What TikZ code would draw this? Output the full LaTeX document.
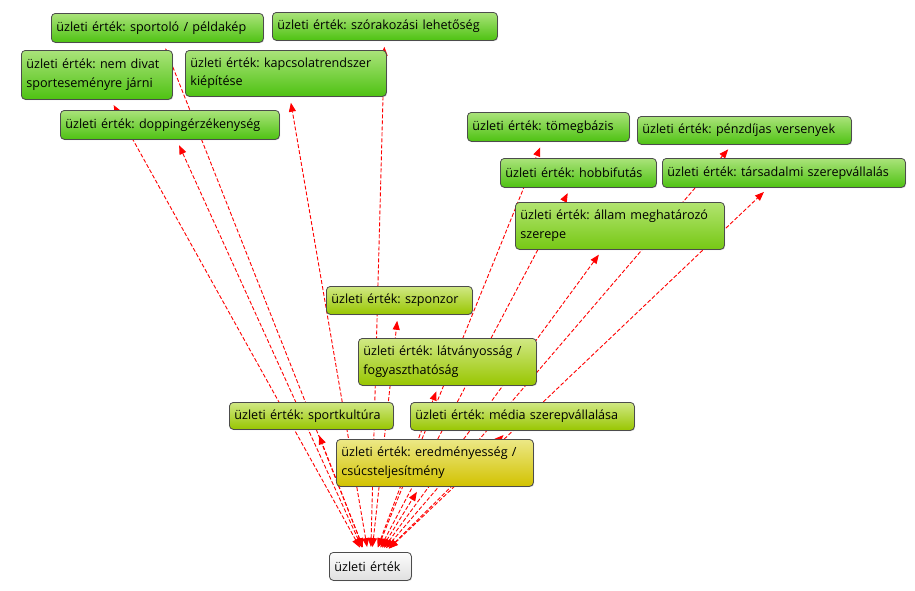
\documentclass[tikz,border=0pt]{standalone}
\usepackage{fontspec}
\setmainfont{Open Sans}
\frenchspacing
\usetikzlibrary{arrows.meta,backgrounds,shadows}

% Szinek
\definecolor{zoldfel}{RGB}{170,227,122}
\definecolor{zoldle}{RGB}{78,194,18}
\definecolor{kozepfel}{RGB}{178,228,112}
\definecolor{kozeple}{RGB}{118,200,20}
\definecolor{limefel}{RGB}{208,232,132}
\definecolor{limele}{RGB}{152,198,0}
\definecolor{sargafel}{RGB}{236,232,134}
\definecolor{sargale}{RGB}{210,194,0}
\definecolor{szurkefel}{RGB}{252,252,252}
\definecolor{szurkele}{RGB}{224,224,224}

\tikzset{
  doboz/.style={draw=black!70, line width=0.8pt, rounded corners=4pt,
    anchor=north west, align=left, inner xsep=5pt, inner ysep=0pt,
    font=\fontsize{12.6}{18.5}\selectfont,
    drop shadow={shadow xshift=0.8pt, shadow yshift=-0.8pt, opacity=0.35}},
  zold/.style={doboz, top color=zoldfel, bottom color=zoldle},
  kozep/.style={doboz, top color=kozepfel, bottom color=kozeple},
  lime/.style={doboz, top color=limefel, bottom color=limele},
  sarga/.style={doboz, top color=sargafel, bottom color=sargale},
  szurke/.style={doboz, top color=szurkefel, bottom color=szurkele},
  nyil/.style={{Triangle[length=9pt,width=7pt]}-{Triangle[length=9pt,width=7pt]},
    red, dash pattern=on 4pt off 2pt, line width=0.9pt,
    shorten <=5pt, shorten >=6pt}
}

\begin{document}
\begin{tikzpicture}[x=1pt, y=-1pt]
  \useasboundingbox (0,0) rectangle (915,590);

  % Felso sor
  \node[zold, text width=202pt, minimum height=29pt] (sportolo) at (51,13) {üzleti érték: sportoló / példakép};
  \node[zold, text width=215pt, minimum height=28pt] (szorakozas) at (272,12) {üzleti érték: szórakozási lehetőség};
  \node[zold, text width=141pt, minimum height=49pt] (nemdivat) at (21,50) {üzleti érték: nem divat\\sporteseményre járni};
  \node[zold, text width=191pt, minimum height=46pt] (kapcsolat) at (185,50) {üzleti érték: kapcsolatrendszer\\kiépítése};
  \node[zold, text width=209pt, minimum height=29pt] (dopping) at (60,110) {üzleti érték: doppingérzékenység};

  % Jobb oldal
  \node[zold, text width=152pt, minimum height=29pt] (tomegbazis) at (467,112) {üzleti érték: tömegbázis};
  \node[zold, text width=204pt, minimum height=28pt] (penzdijas) at (637,116) {üzleti érték: pénzdíjas versenyek};
  \node[zold, text width=146pt, minimum height=29pt] (hobbifutas) at (500,158) {üzleti érték: hobbifutás};
  \node[zold, text width=233pt, minimum height=29pt] (tarsadalmi) at (662,158) {üzleti érték: társadalmi szerepvállalás};
  \node[kozep, text width=199pt, minimum height=47pt] (allam) at (515,202) {üzleti érték: állam meghatározó\\szerepe};

  % Also resz
  \node[lime, text width=136pt, minimum height=28pt] (szponzor) at (326,286) {üzleti érték: szponzor};
  \node[lime, text width=168pt, minimum height=47pt] (latvany) at (358,338) {üzleti érték: látványosság /\\fogyaszthatóság};
  \node[lime, text width=154pt, minimum height=27pt] (sportkultura) at (229,402) {üzleti érték: sportkultúra};
  \node[lime, text width=214pt, minimum height=28pt] (media) at (410,402) {üzleti érték: média szerepvállalása};
  \node[sarga, text width=187pt, minimum height=47pt] (eredmeny) at (336,439) {üzleti érték: eredményesség /\\csúcsteljesítmény};

  % Gyoker
  \node[szurke, text width=72pt, minimum height=28pt] (gyoker) at (329,552) {üzleti érték};

  % Nyilak a dobozok mogott
  \begin{scope}[on background layer]
    \foreach \cel in {sportolo, szorakozas, nemdivat, kapcsolat, dopping,
                      tomegbazis, penzdijas, hobbifutas, tarsadalmi, allam,
                      szponzor, latvany, sportkultura, media, eredmeny}
      \draw[nyil] (gyoker) -- (\cel);
  \end{scope}
\end{tikzpicture}
\end{document}
